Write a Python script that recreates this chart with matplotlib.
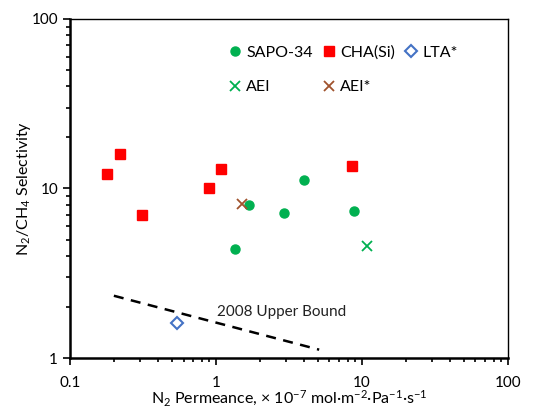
import numpy as np
import matplotlib.pyplot as plt

plt.rcParams['font.family'] = ['Lato', 'DejaVu Sans']
plt.rcParams['mathtext.fontset'] = 'custom'
plt.rcParams['mathtext.rm'] = 'Lato'

# ---------------------------------------------------------
# Dados
# ---------------------------------------------------------
sapo_x = [1.35, 1.69, 2.95, 4.03, 8.81]
sapo_y = [4.38, 7.99, 7.20, 11.2, 7.40]

cha_x = [0.180, 0.222, 0.313, 0.90, 1.08, 8.54]
cha_y = [12.1, 16.0, 7.0, 10.0, 13.0, 13.6]

lta_x = [0.538]
lta_y = [1.62]

aei_x = [10.8]
aei_y = [4.60]

aei2_x = [1.51]
aei2_y = [8.14]

bound_x = [0.2, 5.1]
bound_y = [2.33, 1.12]

fig = plt.figure(figsize=(5.55, 4.12), dpi=100)
ax = fig.add_axes([0.126, 0.131, 0.789, 0.823])

verde = "#00B050"
ax.plot(sapo_x, sapo_y, "o", color=verde, ms=6.5, label="SAPO-34")
ax.plot(aei_x, aei_y, "x", color=verde, ms=7, mew=1.3, label="AEI")
ax.plot(cha_x, cha_y, "s", color="#FF0000", ms=6.5, label="CHA(Si)")
ax.plot(aei2_x, aei2_y, "x", color="#A0522D", ms=7, mew=1.3, label="AEI*")
ax.plot(lta_x, lta_y, "D", color="#4472C4", mfc="white", ms=6, mew=1.5, label="LTA*")

ax.plot(bound_x, bound_y, color="black", lw=1.8, ls=(0, (4, 3)))
ax.text(1.01, 1.86, "2008 Upper Bound", fontsize=11, color="#222222", va="center")

ax.set_xscale("log")
ax.set_yscale("log")
ax.set_xlim(0.1, 100)
ax.set_ylim(1, 100)
ax.set_xticks([0.1, 1, 10, 100])
ax.set_xticklabels(["0.1", "1", "10", "100"])
ax.set_yticks([1, 10, 100])
ax.set_yticklabels(["1", "10", "100"])

ax.tick_params(which="major", direction="out", length=5, width=1.2, labelsize=11)
ax.tick_params(which="minor", direction="out", length=3, width=1.2)
ax.tick_params(axis="x", pad=8)
for s in ["left", "bottom"]:
    ax.spines[s].set_linewidth(1.8)
for s in ["top", "right"]:
    ax.spines[s].set_linewidth(1.0)

ax.set_xlabel(r"N$\mathregular{_2}$ Permeance, × 10$\mathregular{^{−7}}$ mol·m$\mathregular{^{-2}}$·Pa$\mathregular{^{-1}}$·s$\mathregular{^{-1}}$",
              fontsize=11.5, labelpad=-1)
ax.set_ylabel(r"N$\mathregular{_2}$/CH$\mathregular{_4}$ Selectivity", fontsize=11.5)
ax.yaxis.set_label_coords(-0.085, 0.5)

ax.legend(loc="upper left", bbox_to_anchor=(0.33, 0.965), ncol=3, frameon=False,
          fontsize=11.5, handlelength=0.8, handletextpad=0.3, columnspacing=0.6,
          labelspacing=1.3)

fig.savefig("out.png", dpi=100)
